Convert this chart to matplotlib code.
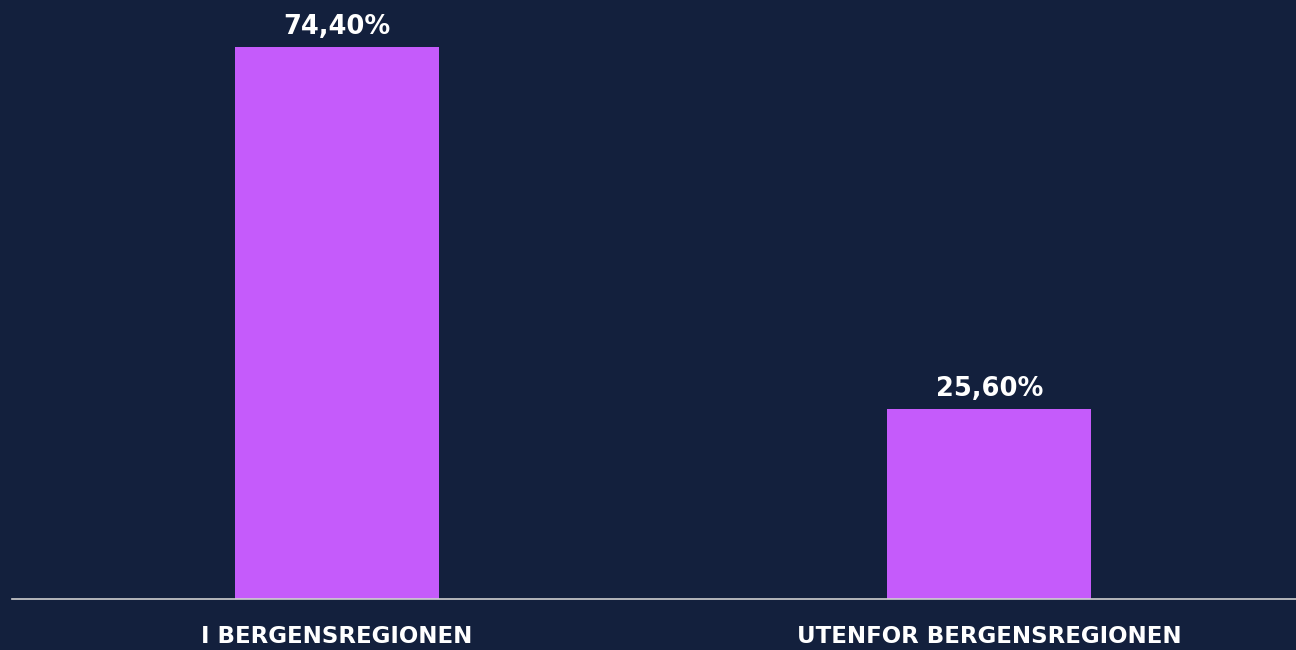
import matplotlib.pyplot as plt

categories = ['I BERGENSREGIONEN', 'UTENFOR BERGENSREGIONEN']
values = [74.40, 25.60]
value_labels = ['74,40%', '25,60%']

bg = '#13203d'
bar_color = '#c55bfb'

fig = plt.figure(figsize=(12.96, 6.5), dpi=100, facecolor=bg)
ax = fig.add_axes([12 / 1296, (650 - 599) / 650, 1284 / 1296, 599 / 650])
ax.set_facecolor(bg)

x = list(range(len(categories)))
bars = ax.bar(x, values, width=0.313, color=bar_color)

for bar, lbl in zip(bars, value_labels):
    ax.annotate(lbl, xy=(bar.get_x() + bar.get_width() / 2, bar.get_height()),
                xytext=(0, 5), textcoords='offset points',
                ha='center', va='bottom', color='white',
                fontsize=18.5, fontweight='bold', family='DejaVu Sans')

ax.set_xlim(-0.498, 1.47)
ax.set_ylim(0, 80.7)

ax.set_xticks(x)
ax.set_xticklabels(categories, color='white', fontsize=16.5, fontweight='bold')
ax.tick_params(axis='x', length=0, pad=19)
ax.set_yticks([])

for s in ['top', 'right', 'left']:
    ax.spines[s].set_visible(False)
ax.spines['bottom'].set_color('#d0d0d0')
ax.spines['bottom'].set_linewidth(1.2)

fig.savefig('out.png', dpi=100, facecolor=bg)
